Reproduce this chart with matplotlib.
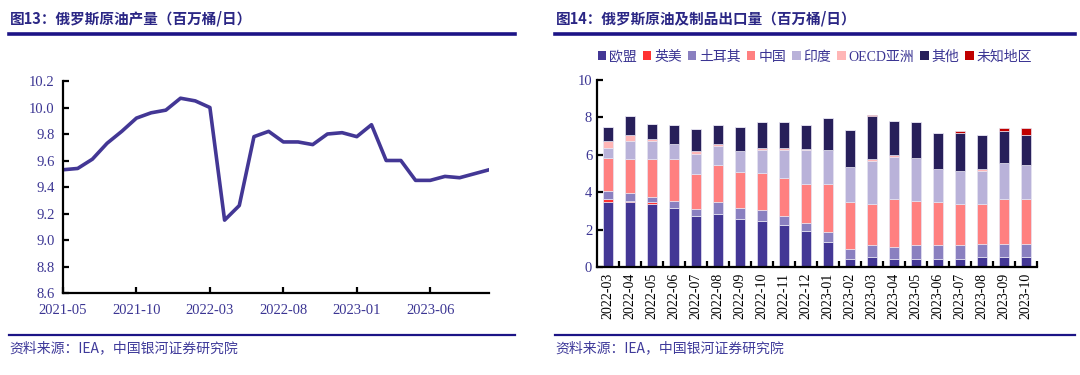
import numpy as np
import matplotlib.pyplot as plt
from matplotlib.lines import Line2D
from matplotlib.patches import Patch

# ---- data: left chart (Russian crude output, mb/d) ----
prod_months = ['2021-05', '2021-06', '2021-07', '2021-08', '2021-09', '2021-10',
               '2021-11', '2021-12', '2022-01', '2022-02', '2022-03', '2022-04',
               '2022-05', '2022-06', '2022-07', '2022-08', '2022-09', '2022-10',
               '2022-11', '2022-12', '2023-01', '2023-02', '2023-03', '2023-04',
               '2023-05', '2023-06', '2023-07', '2023-08', '2023-09', '2023-10']
prod_values = [9.53, 9.54, 9.61, 9.73, 9.82, 9.92, 9.96, 9.98, 10.07, 10.05,
               10.00, 9.15, 9.26, 9.78, 9.82, 9.74, 9.74, 9.72, 9.80, 9.81,
               9.78, 9.87, 9.60, 9.60, 9.45, 9.45, 9.48, 9.47, 9.50, 9.53]

# ---- data: right chart (exports by destination, mb/d) ----
exp_months = ['2022-03', '2022-04', '2022-05', '2022-06', '2022-07', '2022-08',
              '2022-09', '2022-10', '2022-11', '2022-12', '2023-01', '2023-02',
              '2023-03', '2023-04', '2023-05', '2023-06', '2023-07', '2023-08',
              '2023-09', '2023-10']
eu      = [3.45, 3.45, 3.35, 3.15, 2.75, 2.85, 2.55, 2.45, 2.25, 1.95,
           1.35, 0.45, 0.55, 0.45, 0.45, 0.45, 0.45, 0.55, 0.55, 0.55]
uk_us   = [0.20, 0.10, 0.10, 0.00, 0.00, 0.00, 0.00, 0.00, 0.00, 0.00,
           0.00, 0.00, 0.00, 0.00, 0.00, 0.00, 0.00, 0.00, 0.00, 0.00]
turkey  = [0.40, 0.40, 0.30, 0.40, 0.37, 0.60, 0.60, 0.60, 0.50, 0.40,
           0.50, 0.50, 0.60, 0.60, 0.70, 0.70, 0.70, 0.70, 0.70, 0.70]
china   = [1.80, 1.80, 2.00, 2.20, 1.85, 2.00, 1.95, 2.00, 2.00, 2.10,
           2.60, 2.50, 2.20, 2.60, 2.40, 2.30, 2.20, 2.10, 2.40, 2.40]
india   = [0.50, 1.00, 1.00, 0.85, 1.08, 1.03, 1.10, 1.20, 1.50, 1.80,
           1.80, 1.90, 2.30, 2.25, 2.30, 1.80, 1.80, 1.80, 1.90, 1.80]
oecd    = [0.40, 0.30, 0.10, 0.00, 0.13, 0.10, 0.00, 0.10, 0.10, 0.05,
           0.00, 0.00, 0.10, 0.10, 0.00, 0.00, 0.00, 0.10, 0.00, 0.00]
other   = [0.73, 1.00, 0.80, 1.00, 1.20, 1.00, 1.30, 1.40, 1.40, 1.30,
           1.70, 2.00, 2.30, 1.80, 1.90, 1.90, 2.00, 1.80, 1.70, 1.60]
unknown = [0.00, 0.00, 0.00, 0.00, 0.00, 0.00, 0.00, 0.00, 0.00, 0.00,
           0.00, 0.00, 0.10, 0.00, 0.00, 0.00, 0.12, 0.00, 0.20, 0.40]

series_names = ['欧盟', '英美', '土耳其', '中国', '印度', 'OECD亚洲', '其他', '未知地区']
series_colors = ['#433795', '#ff3333', '#8a80c0', '#ff8080', '#b9b2d9',
                 '#ffb6b6', '#271f5a', '#c00000']

navy = '#2b2785'
tick_col = '#3b3593'
serif = ['Liberation Serif', 'Noto Sans CJK SC']
cjk = ['Noto Sans CJK SC', 'DejaVu Sans']

W, H = 1080, 375
fig = plt.figure(figsize=(10.8, 3.75), dpi=100)


def fx(px):
    return px / W


def fy(py):
    return 1 - py / H


# headers, rules and source notes
for x0, x1, title in [(9, 515, '图13：俄罗斯原油产量（百万桶/日）'),
                      (555, 1075, '图14：俄罗斯原油及制品出口量（百万桶/日）')]:
    fig.text(fx(x0 + 1), fy(18), title, family=cjk, fontsize=10.5,
             fontweight='bold', color=navy, va='center')
    fig.add_artist(Line2D([fx(x0), fx(x1)], [fy(34), fy(34)], color='#1c1486',
                          lw=2.6, transform=fig.transFigure))
    fig.add_artist(Line2D([fx(x0), fx(x1)], [fy(335), fy(335)], color='#1c1486',
                          lw=1.6, transform=fig.transFigure))
    fig.text(fx(x0), fy(348), '资料来源：IEA，中国银河证券研究院', family=cjk,
             fontsize=10, style='italic', color='#3f3a9a', va='center')

# ---- left: line chart ----
ax1 = fig.add_axes([fx(63), fy(293), fx(489) - fx(63), fy(81) - fy(293)])
x = np.arange(len(prod_months))
ax1.plot(x, prod_values, color='#433795', lw=2.6)
ax1.set_xlim(0, len(prod_months) - 1)
ax1.set_ylim(8.6, 10.2)
ax1.set_yticks(np.arange(8.6, 10.21, 0.2))
ax1.set_yticklabels([f'{v:.1f}' for v in np.arange(8.6, 10.21, 0.2)])
ax1.set_xticks(x[::5])
ax1.set_xticklabels(prod_months[::5])

# ---- right: stacked bars ----
ax2 = fig.add_axes([fx(597), fy(267), fx(1037) - fx(597), fy(80) - fy(267)])
xb = np.arange(len(exp_months))
bottom = np.zeros(len(exp_months))
handles = []
for name, vals, col in zip(series_names,
                           [eu, uk_us, turkey, china, india, oecd, other, unknown],
                           series_colors):
    vals = np.array(vals)
    ax2.bar(xb, vals, 0.42, bottom=bottom, color=col, edgecolor='#e6e4f2',
            linewidth=0.5)
    bottom += vals
    handles.append(Patch(facecolor=col, label=name))
ax2.set_xlim(-0.5, len(exp_months) - 0.5)
ax2.set_ylim(0, 10)
ax2.set_yticks(range(0, 11, 2))
ax2.set_xticks(xb + 0.5, minor=False)
ax2.set_xticks(xb, minor=True)
ax2.set_xticklabels([''] * len(xb))
ax2.set_xticklabels(exp_months, minor=True, rotation=90)
ax2.tick_params(axis='x', which='minor', length=0, pad=4)
ax2.legend(handles=handles, loc='center',
           bbox_to_anchor=((815 - 597) / (1037 - 597), 1.0 + (80 - 57) / (267 - 80)),
           bbox_transform=ax2.transAxes,
           ncol=8, frameon=False, handlelength=0.6, handleheight=0.6,
           handletextpad=0.2, columnspacing=0.45,
           prop={'family': serif, 'size': 10}, labelcolor=tick_col)

for ax in (ax1, ax2):
    for s in ('top', 'right'):
        ax.spines[s].set_visible(False)
    for s in ('left', 'bottom'):
        ax.spines[s].set_linewidth(1.6)
    ax.tick_params(direction='in', length=4, width=1.6, labelsize=10.5,
                   labelcolor=tick_col)
    for lab in ax.get_xticklabels(which='both') + ax.get_yticklabels():
        lab.set_family(serif)
ax1.tick_params(axis='x', pad=8)
ax1.tick_params(axis='y', pad=6)

fig.savefig('out.png', dpi=100)
